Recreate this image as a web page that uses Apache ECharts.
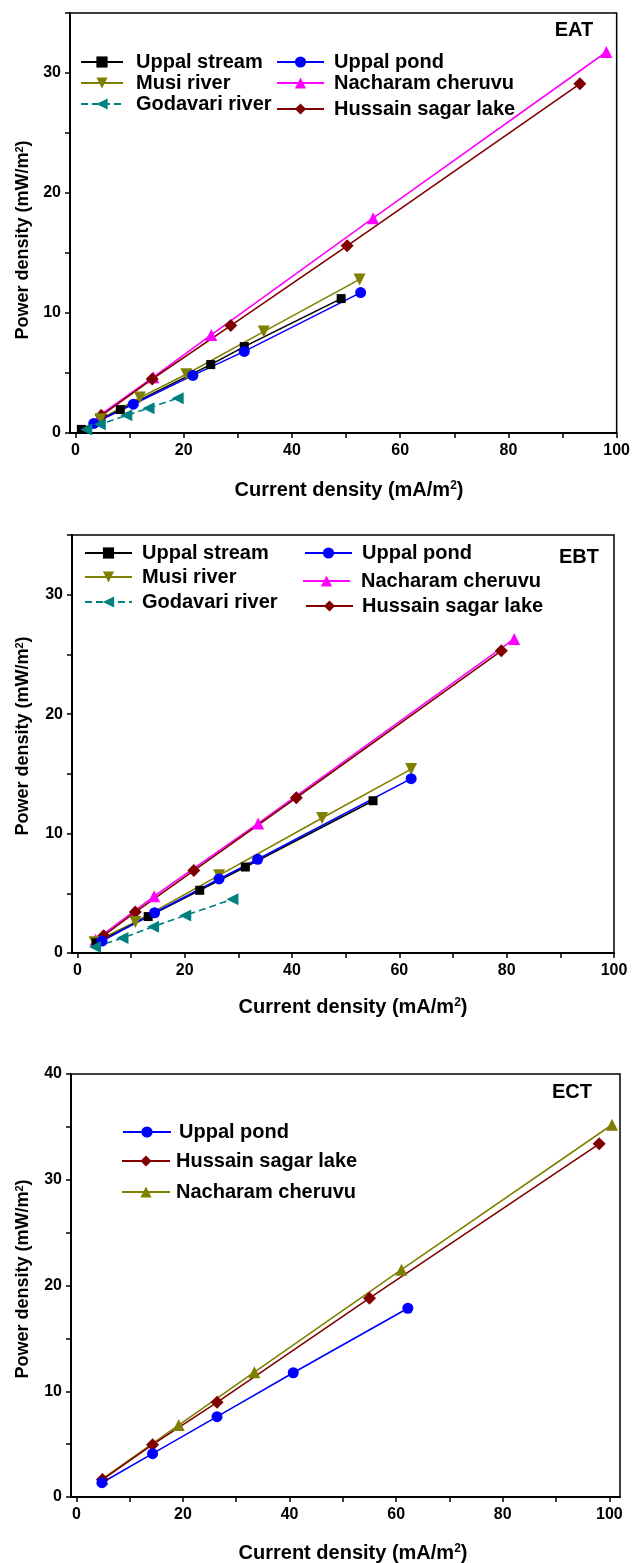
<!DOCTYPE html>
<html>
<head>
<meta charset="utf-8">
<script src="https://cdn.jsdelivr.net/npm/echarts@6/dist/echarts.min.js"></script>
<style>html,body{margin:0;padding:0;background:#fff}#c{width:633px;height:1563px}</style>
</head>
<body>
<div id="c"></div>
<script>
// ---------- DATA ----------
const xLabelValues = [0, 20, 40, 60, 80, 100];
const xTickValues = [0, 10, 20, 30, 40, 50, 60, 70, 80, 90, 100];
const panelNames = ['EAT', 'EBT', 'ECT'];

// EAT  [current density, power density]
const EAT_uppalStream = [[1.1, 0.3], [8.3, 1.95], [25.0, 5.7], [31.2, 7.2], [49.1, 11.2]];
const EAT_uppalPond   = [[3.4, 0.8], [10.7, 2.4], [21.7, 4.8], [31.2, 6.8], [52.7, 11.7]];
const EAT_musi        = [[4.6, 1.15], [11.9, 2.95], [20.5, 4.9], [34.8, 8.45], [52.5, 12.8]];
const EAT_nacharam    = [[4.6, 1.5], [14.4, 4.65], [25.1, 8.17], [55.0, 17.9], [98.1, 31.75]];
const EAT_godavari    = [[2.0, 0.3], [4.5, 0.72], [9.4, 1.47], [13.5, 2.06], [18.9, 2.9]];
const EAT_hussain     = [[4.8, 1.45], [14.2, 4.5], [28.7, 8.95], [50.2, 15.6], [93.2, 29.1]];

// EBT
const EBT_uppalStream = [[3.5, 0.85], [13.2, 3.05], [22.8, 5.25], [31.3, 7.2], [55.1, 12.75]];
const EBT_uppalPond   = [[4.6, 1.0], [14.4, 3.37], [26.4, 6.2], [33.6, 7.85], [62.2, 14.6]];
const EBT_musi        = [[3.2, 0.9], [10.8, 2.6], [26.4, 6.5], [45.6, 11.3], [62.2, 15.4]];
const EBT_nacharam    = [[3.4, 1.1], [14.3, 4.75], [33.7, 10.85], [81.4, 26.3]];
const EBT_godavari    = [[3.3, 0.5], [8.4, 1.25], [14.1, 2.2], [20.1, 3.15], [28.9, 4.5]];
const EBT_hussain     = [[4.9, 1.45], [10.8, 3.43], [21.7, 6.9], [40.8, 13.0], [79.0, 25.3]];

// ECT
const ECT_uppalPond   = [[4.8, 1.35], [14.3, 4.1], [26.4, 7.6], [40.7, 11.75], [62.2, 17.85]];
const ECT_hussain     = [[4.9, 1.65], [14.3, 4.95], [26.4, 8.95], [55.0, 18.8], [98.1, 33.4]];
const ECT_nacharam    = [[4.9, 1.7], [19.2, 6.8], [33.4, 11.8], [61.0, 21.5], [100.5, 35.2]];

// ---------- STYLE ----------
const FONT = "'Liberation Sans', Arial, sans-serif";
const sty = {
  stream:   { color: '#000000', symbol: 'rect', size: 9, rot: 0, dash: 'solid' },
  pond:     { color: '#0000ff', symbol: 'circle', size: 11, rot: 0, dash: 'solid' },
  musi:     { color: '#808000', symbol: 'triangle', size: 12, rot: 180, dash: 'solid' },
  nach:     { color: '#ff00ff', symbol: 'triangle', size: 12, rot: 0, dash: 'solid' },
  nachOl:   { color: '#808000', symbol: 'triangle', size: 12, rot: 0, dash: 'solid' },
  godavari: { color: '#008080', symbol: 'triangle', size: 12, rot: 90, dash: [7, 4] },
  hussain:  { color: '#800000', symbol: 'diamond', size: 13, rot: 0, dash: 'solid' }
};

function mkSeries(name, data, s, idx) {
  return {
    type: 'line', name: name, data: data, xAxisIndex: idx, yAxisIndex: idx,
    symbol: s.symbol, symbolSize: s.size, symbolRotate: s.rot,
    itemStyle: { color: s.color },
    lineStyle: { color: s.color, width: 1.6, type: s.dash },
    emphasis: { disabled: true }, animation: false, z: 3
  };
}

const grids = [
  { left: 70, top: 13, width: 547, height: 420 },
  { left: 72, top: 535, width: 542, height: 418 },
  { left: 71, top: 1074, width: 549, height: 423 }
];
const xMax = [100, 100, 102];
const yMax = [35, 35, 40];

const series = [
  mkSeries('Nacharam cheruvu', EAT_nacharam, sty.nach, 0),
  mkSeries('Hussain sagar lake', EAT_hussain, sty.hussain, 0),
  mkSeries('Musi river', EAT_musi, sty.musi, 0),
  mkSeries('Uppal stream', EAT_uppalStream, sty.stream, 0),
  mkSeries('Uppal pond', EAT_uppalPond, sty.pond, 0),
  mkSeries('Godavari river', EAT_godavari, sty.godavari, 0),

  mkSeries('Nacharam cheruvu#2', EBT_nacharam, sty.nach, 1),
  mkSeries('Hussain sagar lake#2', EBT_hussain, sty.hussain, 1),
  mkSeries('Musi river#2', EBT_musi, sty.musi, 1),
  mkSeries('Uppal stream#2', EBT_uppalStream, sty.stream, 1),
  mkSeries('Uppal pond#2', EBT_uppalPond, sty.pond, 1),
  mkSeries('Godavari river#2', EBT_godavari, sty.godavari, 1),

  mkSeries('Nacharam cheruvu#3', ECT_nacharam, sty.nachOl, 2),
  mkSeries('Hussain sagar lake#3', ECT_hussain, sty.hussain, 2),
  mkSeries('Uppal pond#3', ECT_uppalPond, sty.pond, 2)
];

function legendItem(name, left, centerY, itemWidth, pad) {
  return {
    data: [name], left: left, top: centerY - 10, orient: 'vertical', padding: 0,
    itemWidth: itemWidth, itemHeight: 14, itemGap: 0, selectedMode: false,
    formatter: n => n.split('#')[0],
    textStyle: { fontSize: 20, fontWeight: 'bold', color: '#000', fontFamily: FONT, padding: [0, 0, 0, pad] }
  };
}
const legends = [
  legendItem('Uppal stream', 80, 62, 42, 8),
  legendItem('Musi river', 80, 83, 42, 8),
  legendItem('Godavari river', 80, 104, 42, 8),
  legendItem('Uppal pond', 276, 62, 47, 5),
  legendItem('Nacharam cheruvu', 276, 83, 47, 5),
  legendItem('Hussain sagar lake', 276, 109, 47, 5),

  legendItem('Uppal stream#2', 84, 553, 47, 5),
  legendItem('Musi river#2', 84, 577, 47, 5),
  legendItem('Godavari river#2', 84, 602, 47, 5),
  legendItem('Uppal pond#2', 304, 553, 47, 5),
  legendItem('Nacharam cheruvu#2', 302, 581, 47, 6),
  legendItem('Hussain sagar lake#2', 305, 606, 47, 4),

  legendItem('Uppal pond#3', 122, 1132, 48, 3),
  legendItem('Hussain sagar lake#3', 121, 1161, 48, 1),
  legendItem('Nacharam cheruvu#3', 121, 1192, 48, 1)
];

const xAxes = grids.map((g, i) => ({
  type: 'value', gridIndex: i, min: -1, max: xMax[i],
  axisLine: { show: true, onZero: false, lineStyle: { color: '#000', width: 2 } },
  axisTick: { show: true, customValues: xTickValues, length: 5, lineStyle: { color: '#000', width: 1.5 } },
  axisLabel: { customValues: xLabelValues, fontSize: 16, fontWeight: 'bold', color: '#000', fontFamily: FONT, margin: 10 },
  splitLine: { show: false }
}));
const yAxes = grids.map((g, i) => ({
  type: 'value', gridIndex: i, min: 0, max: yMax[i], interval: 5,
  axisLine: { show: true, onZero: false, lineStyle: { color: '#000', width: 2 } },
  axisTick: { show: true, length: 5, lineStyle: { color: '#000', width: 1.5 } },
  axisLabel: { formatter: v => (v % 10 === 0 ? String(v) : ''), fontSize: 16, fontWeight: 'bold', color: '#000', fontFamily: FONT, margin: 9 },
  splitLine: { show: false }
}));

const xTitleY = [490, 1007, 1553];
const xTitleX = [349, 353, 353];
const yTitleY = [240, 736, 1279];
const panelLabelPos = [[574, 30], [579, 557], [572, 1092]];

const graphics = [];
for (let i = 0; i < 3; i++) {
  graphics.push({
    type: 'text', x: xTitleX[i], y: xTitleY[i], silent: true,
    style: {
      text: 'Current density (mA/m{s|2})', x: 0, y: 0,
      align: 'center', verticalAlign: 'middle',
      font: "bold 20px " + FONT, fill: '#000',
      rich: { s: { fontSize: 12, fontWeight: 'bold', fontFamily: FONT, verticalAlign: 'top', fill: '#000' } }
    }
  });
  graphics.push({
    type: 'text', x: 23, y: yTitleY[i], rotation: Math.PI / 2, silent: true,
    style: {
      text: 'Power density (mW/m{s|2})', x: 0, y: 0,
      align: 'center', verticalAlign: 'middle',
      font: "bold 18px " + FONT, fill: '#000',
      rich: { s: { fontSize: 11, fontWeight: 'bold', fontFamily: FONT, verticalAlign: 'top', fill: '#000' } }
    }
  });
  graphics.push({
    type: 'text', x: panelLabelPos[i][0], y: panelLabelPos[i][1], silent: true,
    style: { text: panelNames[i], align: 'center', verticalAlign: 'middle', font: "bold 20px " + FONT, fill: '#000' }
  });
}

const chart = echarts.init(document.getElementById('c'), null, { renderer: 'canvas', width: 633, height: 1563 });
chart.setOption({
  animation: false,
  backgroundColor: '#fff',
  grid: grids.map(g => Object.assign({ show: true, borderColor: '#000', borderWidth: 1.5, backgroundColor: 'transparent', containLabel: false }, g)),
  xAxis: xAxes,
  yAxis: yAxes,
  legend: legends,
  series: series,
  graphic: graphics
});
</script>
</body>
</html>
